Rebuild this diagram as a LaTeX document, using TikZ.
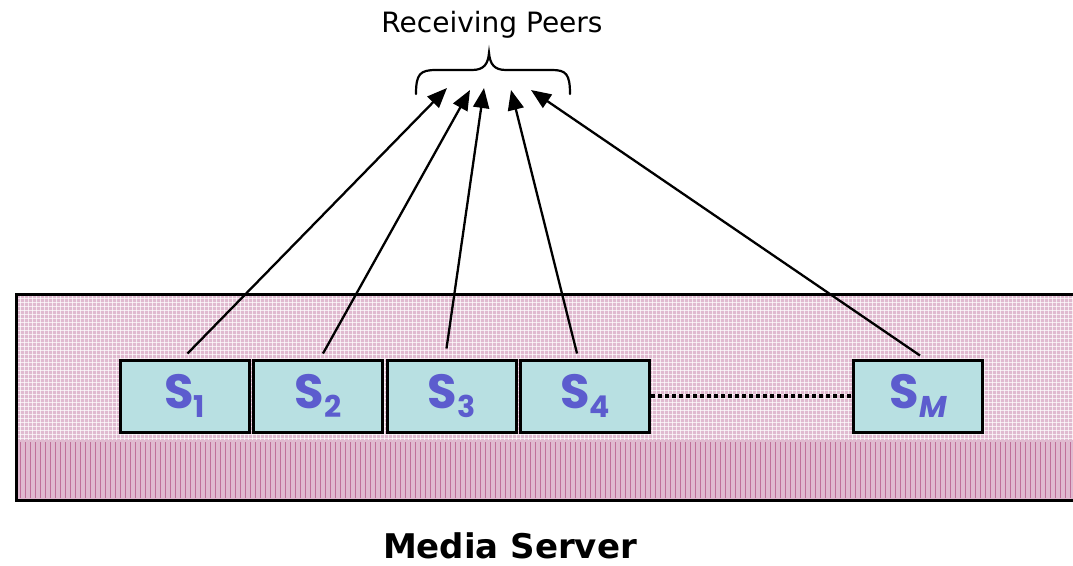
\documentclass[tikz,border=0pt]{standalone}
\usepackage{fontspec}
\setmainfont{DejaVu Sans}
\newfontfamily\slotfont{Poppins}
\usetikzlibrary{arrows.meta,calc}
\definecolor{serverpink}{RGB}{224,186,208}
\definecolor{stripepink}{RGB}{192,112,154}
\definecolor{slotfill}{RGB}{184,224,226}
\definecolor{slotlabel}{RGB}{92,92,206}
\tikzset{
  slot/.style={draw=black, line width=3pt, fill=slotfill, minimum width=129pt,
    minimum height=72pt, inner sep=0pt, anchor=center, text=slotlabel},
  feed/.style={line width=2.3pt, -{Triangle[length=20pt,width=16pt]}},
}
\newcommand{\slotname}[1]{{\slotfont\fontsize{48}{48}\selectfont\bfseries S\raisebox{-9pt}{\fontsize{30}{30}\selectfont #1}}}
\begin{document}
\begin{tikzpicture}[x=1pt,y=-1pt]
\useasboundingbox (0,0) rectangle (1073,565);
% server body
\fill[serverpink] (16,294) rectangle (1080,500);
\foreach \x in {20,24,...,1076} \draw[white, line width=0.6pt, opacity=0.7] (\x,296) -- (\x,440);
\foreach \y in {298,302,...,438} \draw[white, line width=0.6pt, opacity=0.7] (18,\y) -- (1076,\y);
\foreach \x in {20,25,...,1076} \draw[stripepink, line width=1pt] (\x,442) -- (\x,498);
\draw[line width=3pt] (1080,294) -- (16,294) -- (16,500) -- (1080,500);
% stream slots
\node[slot] (s1) at (184.5,396) {\slotname{1}};
\node[slot] (s2) at (318,396) {\slotname{2}};
\node[slot] (s3) at (451.5,396) {\slotname{3}};
\node[slot] (s4) at (585,396) {\slotname{4}};
\node[slot] (sm) at (918,396) {\slotname{\itshape M}};
\draw[line width=3.5pt, dash pattern=on 3.5pt off 3.5pt] (s4.east) -- (sm.west);
% peers and their brace
\coordinate (p1) at (447,88);
\coordinate (p2) at (470,90);
\coordinate (p3) at (484,88);
\coordinate (p4) at (511,90);
\coordinate (p5) at (531,90);
\draw[line width=2.2pt, line cap=round]
  (416,94) .. controls (416,74) and (420,70) .. (436,70) -- (472,70)
  .. controls (484,70) and (488,64) .. (489,53)
  .. controls (490,64) and (494,70) .. (506,70) -- (552,70)
  .. controls (566,70) and (570,74) .. (570,94);
\node (peers) at (492,25) {\fontsize{28}{28}\selectfont Receiving Peers};
\draw[feed] ($(s1.north)+(3,-5)$) -- (p1);
\draw[feed] ($(s2.north)+(5,-5)$) -- (p2);
\draw[feed] ($(s3.north)+(-5,-10)$) -- (p3);
\draw[feed] ($(s4.north)+(-8,-5)$) -- (p4);
\draw[feed] ($(sm.north)+(2,-3)$) -- (p5);
\node (server) at (510,546) {\fontsize{34}{34}\selectfont\bfseries Media Server};
\end{tikzpicture}
\end{document}
